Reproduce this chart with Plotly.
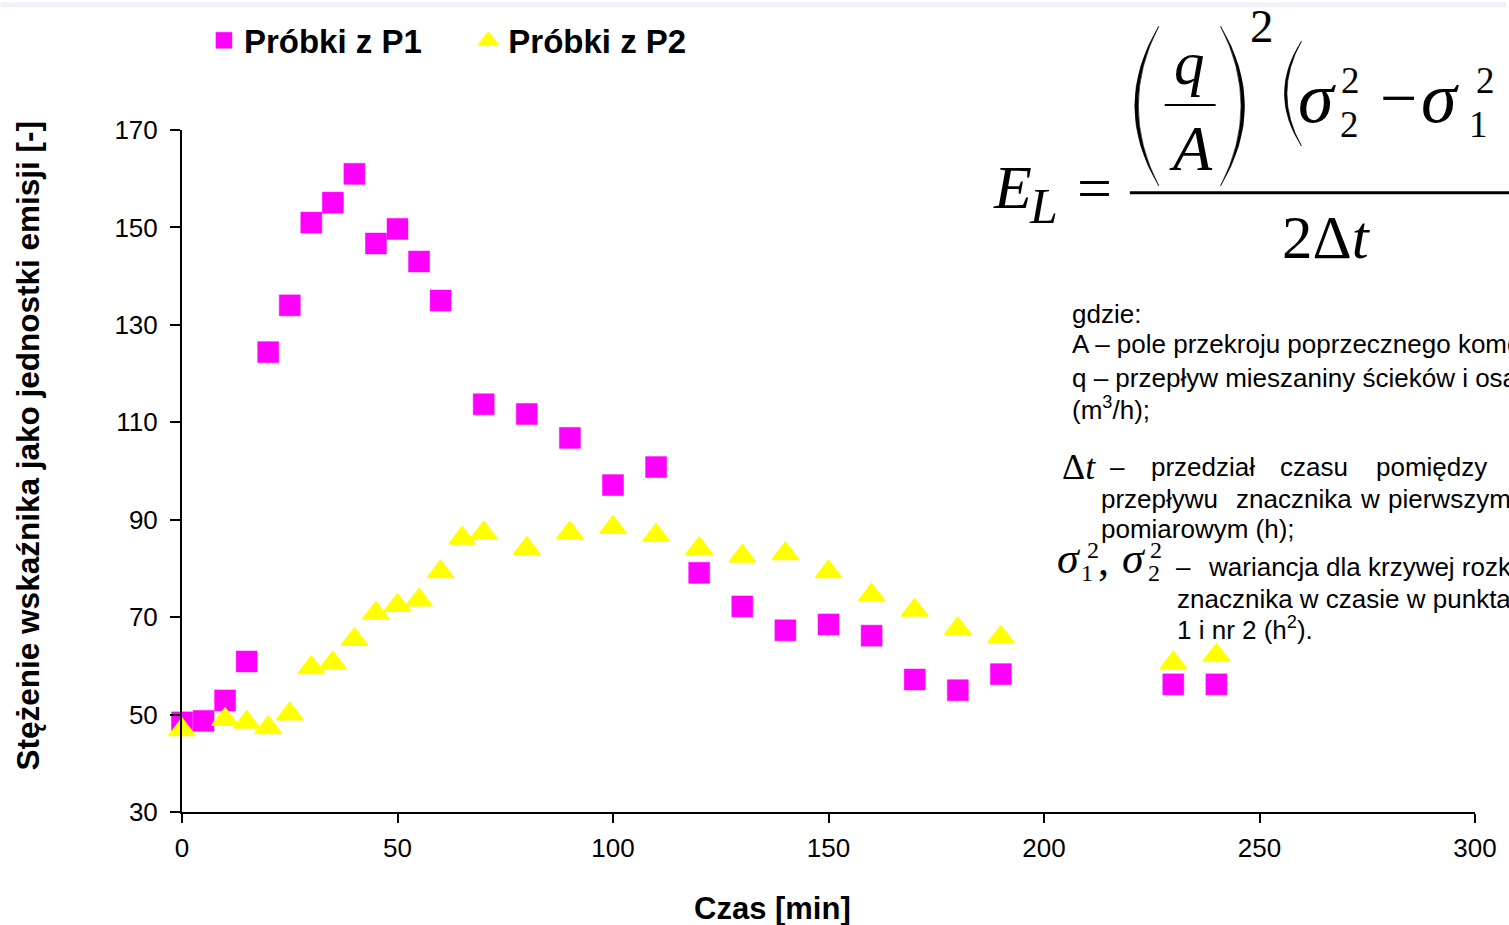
import plotly.graph_objects as go

# ---------------- data ----------------
time_p1 = [0, 5, 10, 15, 20, 25, 30, 35, 40, 45, 50, 55, 60, 70, 80, 90, 100, 110,
           120, 130, 140, 150, 160, 170, 180, 190, 230, 240]
conc_p1 = [48.4, 48.7, 52.9, 60.9, 124.4, 134.0, 151.0, 155.1, 161.0, 146.7, 149.7, 143.0,
           135.0, 113.7, 111.7, 106.8, 97.1, 100.8, 79.1, 72.2, 67.3, 68.5, 66.2, 57.2,
           55.0, 58.3, 56.2, 56.2]

time_p2 = [0, 10, 15, 20, 25, 30, 35, 40, 45, 50, 55, 60, 65, 70, 80, 90, 100, 110,
           120, 130, 140, 150, 160, 170, 180, 190, 230, 240]
conc_p2 = [46.9, 49.0, 48.4, 47.3, 50.1, 59.6, 60.6, 65.4, 70.8, 72.4, 73.5, 79.3, 86.2,
           87.3, 84.1, 87.3, 88.4, 86.8, 84.1, 82.5, 83.0, 79.3, 74.5, 71.4, 67.6, 65.9,
           60.6, 62.2]

series_names = ["Próbki z P1", "Próbki z P2"]
x_ticks = [0, 50, 100, 150, 200, 250, 300]
y_ticks = [30, 50, 70, 90, 110, 130, 150, 170]
x_title = "Czas [min]"
y_title = "Stężenie wskaźnika jako jednostki emisji [-]"

# ---------------- layout geometry (pixels) ----------------
FW, FH = 1509, 925
L, R, T, B = 182, 1478, 128, 812
W, H = R - L, B - T


def px(x):
    return (x - L) / W


def py(y):
    return (B - y) / H


SANS = "Liberation Sans, Arial, sans-serif"
SERIF = "Liberation Serif, Times New Roman, serif"

fig = go.Figure()
fig.add_trace(go.Scatter(
    x=time_p1, y=conc_p1, mode="markers", name=series_names[0],
    marker=dict(symbol="square", size=21, color="#ff00ff",
                line=dict(width=0.5, color="#ff00ff")),
    cliponaxis=False, legend="legend"))
fig.add_trace(go.Scatter(
    x=time_p2, y=conc_p2, mode="markers", name=series_names[1],
    marker=dict(symbol="triangle-up", size=23, color="#ffff00",
                line=dict(width=1.5, color="#ffff00")),
    cliponaxis=False, legend="legend2"))

annotations = []


def ann(text, x, y, size, family=SANS, xanchor="center", weight="normal", angle=0):
    annotations.append(dict(
        text=text, x=px(x), y=py(y), xref="paper", yref="paper",
        xanchor=xanchor, yanchor="middle", showarrow=False, textangle=angle,
        font=dict(family=family, size=size, color="black", weight=weight)))


# axis titles
ann(x_title, 774, 909, 31, weight="bold")
ann(y_title, 28, 445, 31.5, weight="bold", angle=-90)

# ---------------- formula ----------------
ann("<i>E</i>", 1014, 185, 62, SERIF)
ann("<i>L</i>", 1045, 204, 50, SERIF)
ann("=", 1097, 186, 62, SERIF)
ann("<i>q</i>", 1192, 61, 61, SERIF)
ann("<i>A</i>", 1193, 147, 64, SERIF)
ann("2", 1265, 24, 47, SERIF)
ann("<i>σ</i>", 1320, 96, 72, SERIF)
ann("2", 1352, 122, 37, SERIF)
ann("2", 1353, 78, 37, SERIF)
ann("\u2212", 1401, 95, 66, SERIF)
ann("<i>σ</i>", 1443, 96, 72, SERIF)
ann("1", 1482, 122, 37, SERIF)
ann("2", 1489, 78, 37, SERIF)
ann("2Δ<i>t</i>", 1329, 236, 61, SERIF)

# ---------------- explanation text ----------------
TS = 26
off = 0.35 * TS
ann("gdzie:", 1072, 322 - off, TS, xanchor="left")
ann("A – pole przekroju poprzecznego komory (m<sup>2</sup>);", 1072, 354 - off - 4, TS, xanchor="left")
ann("q – przepływ mieszaniny ścieków i osadu czynnego", 1072, 386 - off, TS, xanchor="left")
ann("(m<sup>3</sup>/h);", 1072, 419 - off - 3, TS, xanchor="left")

ann("Δ<i>t</i>", 1081, 466, 36, SERIF)
ann("–", 1110, 475 - off, TS, xanchor="left")
for word, xl in [("przedział", 1151), ("czasu", 1281), ("pomiędzy", 1377), ("pomiarem", 1520)]:
    ann(word, xl, 475 - off, TS, xanchor="left")
for word, xl in [("przepływu", 1101), ("znacznika", 1236), ("w", 1361), ("pierwszym", 1389),
                 ("punkcie", 1530)]:
    ann(word, xl, 507 - off, TS, xanchor="left")
ann("pomiarowym (h);", 1101, 537 - off, TS, xanchor="left")

ann("<i>σ</i>", 1071, 558, 44, SERIF)
ann("1", 1089, 572, 24, SERIF)
ann("2", 1095, 549, 24, SERIF)
ann(",", 1106, 560, 44, SERIF)
ann("<i>σ</i>", 1136, 558, 44, SERIF)
ann("2", 1156, 572, 24, SERIF)
ann("2", 1158, 549, 24, SERIF)
ann("–", 1176, 575 - off, TS, xanchor="left")
ann("wariancja dla krzywej rozkładu", 1208, 575 - off, TS, xanchor="left")
ann("znacznika w czasie w punktach nr", 1177, 607 - off, TS, xanchor="left")
ann("1 i nr 2 (h<sup>2</sup>).", 1177, 637 - off, TS, xanchor="left")

# ---------------- decorative shapes ----------------
shapes = []


def paren(x_end, y_top, y_bot, x_outer_ctrl, x_inner_ctrl):
    ym = (y_top + y_bot) / 2
    return (f"M {px(x_end)},{py(y_top)} Q {px(x_outer_ctrl)},{py(ym)} {px(x_end)},{py(y_bot)} "
            f"Q {px(x_inner_ctrl)},{py(ym)} {px(x_end)},{py(y_top)} Z")


for p in [paren(1161, 24, 184, 1113, 1120),
          paren(1223, 24, 184, 1271, 1264),
          paren(1304, 39, 144, 1270, 1275)]:
    shapes.append(dict(type="path", path=p, xref="paper", yref="paper",
                       fillcolor="black", line=dict(color="black", width=0.6)))

# fraction bars
shapes.append(dict(type="line", xref="paper", yref="paper", x0=px(1132), x1=px(1520),
                   y0=py(191), y1=py(191), line=dict(color="black", width=3)))
shapes.append(dict(type="line", xref="paper", yref="paper", x0=px(1167), x1=px(1218),
                   y0=py(103), y1=py(103), line=dict(color="black", width=2)))
# light band at the very top
shapes.append(dict(type="rect", xref="paper", yref="paper", x0=px(0), x1=px(FW),
                   y0=py(5), y1=py(0), fillcolor="#eef1f7", line=dict(width=0),
                   layer="below"))

fig.update_layout(
    width=FW, height=FH,
    margin=dict(l=L, r=FW - R, t=T, b=FH - B, pad=0),
    paper_bgcolor="white", plot_bgcolor="white",
    showlegend=True,
    legend=dict(x=px(204), y=py(38), xanchor="left", yanchor="middle",
                orientation="h", bgcolor="rgba(0,0,0,0)", borderwidth=0,
                font=dict(family=SANS, size=33, color="black", weight="bold")),
    legend2=dict(x=px(469), y=py(38), xanchor="left", yanchor="middle",
                 orientation="h", bgcolor="rgba(0,0,0,0)", borderwidth=0,
                 font=dict(family=SANS, size=33, color="black", weight="bold")),
    annotations=annotations,
    shapes=shapes,
    xaxis=dict(range=[0, 300], tickvals=x_ticks, ticktext=[str(v) for v in x_ticks],
               showgrid=False, zeroline=False, showline=True, linecolor="black",
               linewidth=2, ticks="outside", ticklen=9, tickwidth=2, tickcolor="black",
               tickfont=dict(family=SANS, size=26, color="black"),
               ticklabelstandoff=3),
    yaxis=dict(range=[30, 170], tickvals=y_ticks, ticktext=[str(v) for v in y_ticks],
               showgrid=False, zeroline=False, showline=True, linecolor="black",
               linewidth=2, ticks="outside", ticklen=10, tickwidth=2, tickcolor="black",
               tickfont=dict(family=SANS, size=26, color="black"),
               ticklabelstandoff=7),
)

fig.write_html("out.html")
